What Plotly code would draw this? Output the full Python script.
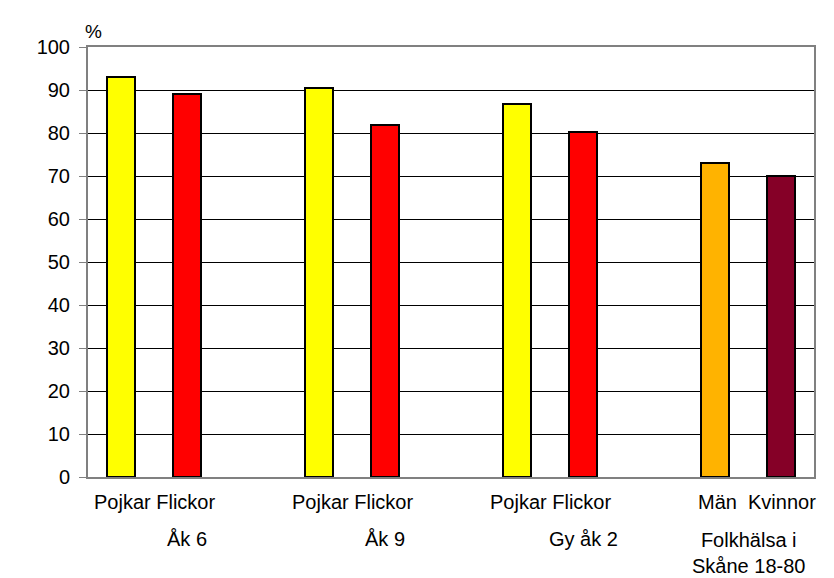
import plotly.graph_objects as go

# Data
bar_labels = ["Pojkar", "Flickor", "Pojkar", "Flickor", "Pojkar", "Flickor", "Män", "Kvinnor"]
bar_x = [0, 1, 3, 4, 6, 7, 9, 10]
values = [93.1, 89.1, 90.5, 81.9, 86.8, 80.3, 73.1, 70.1]
bar_colors = ["#FFFF00", "#FF0000", "#FFFF00", "#FF0000", "#FFFF00", "#FF0000", "#FFB300", "#850027"]

pair_labels = ["Pojkar Flickor", "Pojkar Flickor", "Pojkar Flickor", "Män  Kvinnor"]
pair_x = [0.5, 3.5, 6.5, 9.64]
group_labels = ["Åk 6", "Åk 9", "Gy åk 2", "Folkhälsa i<br>Skåne 18-80"]
group_x = [1.0, 4.0, 7.0, 9.5]
group_y = [-0.144, -0.144, -0.144, -0.176]

y_ticks = list(range(0, 101, 10))

FONT = "Arial, Liberation Sans, sans-serif"

fig = go.Figure()
fig.add_trace(go.Bar(
    x=bar_x, y=values, width=0.41,
    marker=dict(color=bar_colors, line=dict(color="black", width=2)),
    hovertext=bar_labels, showlegend=False,
))

annotations = []
for t, x in zip(pair_labels, pair_x):
    annotations.append(dict(x=x, y=-0.057, xref="x", yref="paper", text=t,
                            showarrow=False, xanchor="center", yanchor="middle",
                            font=dict(size=20, family=FONT, color="black")))
for t, x, y in zip(group_labels, group_x, group_y):
    annotations.append(dict(x=x, y=y, xref="x", yref="paper", text=t,
                            showarrow=False, xanchor="center", yanchor="middle",
                            font=dict(size=20, family=FONT, color="black")))
annotations.append(dict(x=0.007, y=1.037, xref="paper", yref="paper", text="%",
                        showarrow=False, xanchor="center", yanchor="middle",
                        font=dict(size=19, family=FONT, color="black")))

fig.update_layout(
    width=834, height=578,
    margin=dict(l=88, r=20, t=47, b=101),
    paper_bgcolor="white", plot_bgcolor="white",
    font=dict(family=FONT, size=20, color="black"),
    bargap=0,
    xaxis=dict(range=[-0.5, 10.5], showticklabels=False, showgrid=False, zeroline=False,
               showline=True, linecolor="#808080", linewidth=2, mirror=True, ticks=""),
    yaxis=dict(range=[0, 100], tickvals=y_ticks, showgrid=True, gridcolor="black", gridwidth=1,
               zeroline=False, showline=True, linecolor="#808080", linewidth=2, mirror=True,
               ticks="outside", ticklen=7, tickcolor="#808080", tickwidth=1,
               ticklabelstandoff=5,
               tickfont=dict(size=20, family=FONT, color="black")),
    annotations=annotations,
)

fig.write_html("out.html")
